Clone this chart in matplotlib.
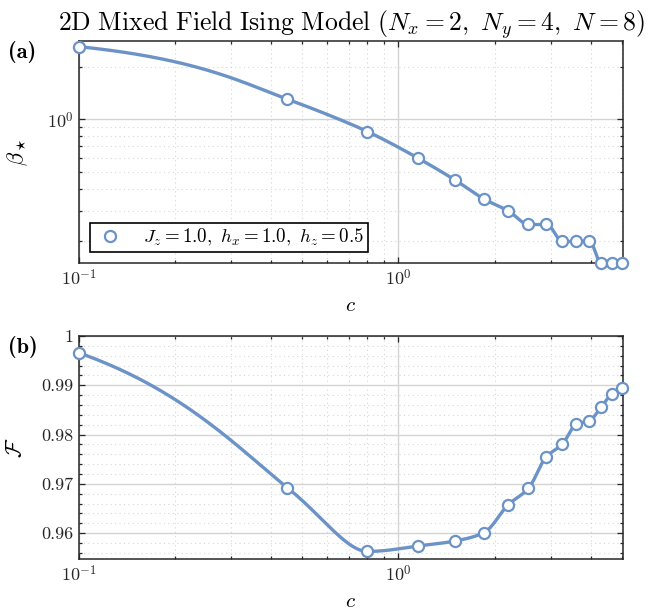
import numpy as np
import matplotlib
matplotlib.use("Agg")
import matplotlib.pyplot as plt
from matplotlib.ticker import FixedLocator, NullFormatter, LogLocator, MultipleLocator

plt.rcParams['font.family'] = 'serif'
plt.rcParams['font.serif'] = ['cmr10', 'DejaVu Serif']
plt.rcParams['mathtext.fontset'] = 'cm'
plt.rcParams['axes.unicode_minus'] = False
plt.rcParams['axes.formatter.use_mathtext'] = True

# data
c_vals = [0.1, 0.45, 0.8, 1.15, 1.5, 1.85, 2.2, 2.55, 2.9, 3.25, 3.6, 3.95, 4.3, 4.65, 5.0]
beta_star = [2.6, 1.3, 0.85, 0.6, 0.45, 0.35, 0.30, 0.25, 0.25, 0.20, 0.20, 0.20, 0.15, 0.15, 0.15]
fidelity = [0.9966, 0.9692, 0.9563, 0.9574, 0.9584, 0.9601, 0.9657, 0.9691,
            0.9755, 0.9780, 0.9821, 0.9828, 0.9855, 0.9883, 0.9895]
legend_label = r'$J_z = 1.0,\ h_x = 1.0,\ h_z = 0.5$'
title = r'$\mathrm{2D\ Mixed\ Field\ Ising\ Model}\ (N_x = 2,\ N_y = 4,\ N = 8)$'
f_ticks = [0.96, 0.97, 0.98, 0.99, 1.0]
f_ticklabels = ['0.96', '0.97', '0.98', '0.99', '1']

color = '#6b93c8'


def pchip(x, y, xn):
    # monotone cubic (same as scipy's PchipInterpolator)
    x = np.asarray(x, float)
    y = np.asarray(y, float)
    h = np.diff(x)
    d = np.diff(y) / h
    n = len(x)
    m = np.zeros(n)
    for k in range(1, n - 1):
        if d[k - 1] * d[k] <= 0:
            m[k] = 0.0
        else:
            w1 = 2 * h[k] + h[k - 1]
            w2 = h[k] + 2 * h[k - 1]
            m[k] = (w1 + w2) / (w1 / d[k - 1] + w2 / d[k])

    def end(h0, h1, d0, d1):
        mm = ((2 * h0 + h1) * d0 - h0 * d1) / (h0 + h1)
        if np.sign(mm) != np.sign(d0):
            mm = 0.0
        elif np.sign(d0) != np.sign(d1) and abs(mm) > abs(3 * d0):
            mm = 3 * d0
        return mm

    m[0] = end(h[0], h[1], d[0], d[1])
    m[-1] = end(h[-1], h[-2], d[-1], d[-2])
    idx = np.clip(np.searchsorted(x, xn) - 1, 0, n - 2)
    t = (xn - x[idx]) / h[idx]
    h00 = 2 * t**3 - 3 * t**2 + 1
    h10 = t**3 - 2 * t**2 + t
    h01 = -2 * t**3 + 3 * t**2
    h11 = t**3 - t**2
    return h00 * y[idx] + h10 * h[idx] * m[idx] + h01 * y[idx + 1] + h11 * h[idx] * m[idx + 1]


cc = np.linspace(c_vals[0], c_vals[-1], 1500)

fig = plt.figure(figsize=(6.48, 6.10), dpi=100)
W, H = 648, 610
left, right = 78.6 / W, 623.3 / W
ax1 = fig.add_axes([left, 1 - 263.3 / H, right - left, (263.3 - 40.7) / H])
ax2 = fig.add_axes([left, 1 - 559.3 / H, right - left, (559.3 - 336.0) / H])


def style(ax):
    ax.tick_params(which='both', direction='in', top=True, right=True,
                   labelsize=13, colors='#262626', width=0.9)
    ax.tick_params(which='major', length=4)
    ax.tick_params(which='minor', length=2.2)
    ax.grid(which='major', color='#d4d4d4', lw=1.0, ls='-')
    ax.grid(which='minor', color='#d6d6d6', lw=0.8, ls=(0, (1, 3)))
    ax.set_axisbelow(True)
    for s in ax.spines.values():
        s.set_color('#262626')
        s.set_linewidth(1.1)
    ax.set_xscale('log')
    ax.set_xlim(0.1, 5.05)
    ax.xaxis.set_major_locator(FixedLocator([0.1, 1.0]))
    ax.set_xticklabels([r'$10^{-1}$', r'$10^{0}$'])
    ax.xaxis.set_minor_locator(LogLocator(base=10, subs=np.arange(2, 10)))
    ax.xaxis.set_minor_formatter(NullFormatter())
    ax.set_xlabel(r'$c$', fontsize=15, labelpad=6)


# (a) beta star
ax1.plot(cc, pchip(c_vals, beta_star, cc), color=color, lw=2.4, zorder=3)
ax1.plot(c_vals, beta_star, 'o', ls='none', mfc='white', mec=color, mew=1.6, ms=8,
         label=legend_label, zorder=4, clip_on=False)
style(ax1)
ax1.set_yscale('log')
ax1.set_ylim(0.15, 2.81)
ax1.yaxis.set_major_locator(FixedLocator([1.0]))
ax1.set_yticklabels([r'$10^{0}$'])
ax1.yaxis.set_minor_locator(LogLocator(base=10, subs=np.arange(2, 10)))
ax1.yaxis.set_minor_formatter(NullFormatter())
ax1.set_ylabel(r'$\beta_\star$', fontsize=16, labelpad=12)
leg = ax1.legend(loc='lower left', fontsize=13.6, frameon=True, fancybox=False,
                 framealpha=1, edgecolor='black', handletextpad=0.9,
                 borderaxespad=0.6, handlelength=1.7, borderpad=0.2)
leg.get_frame().set_linewidth(1.2)
ax1.set_title(title, fontsize=18.5, pad=6)

# (b) fidelity
ax2.plot(cc, pchip(c_vals, fidelity, cc), color=color, lw=2.4, zorder=3)
ax2.plot(c_vals, fidelity, 'o', ls='none', mfc='white', mec=color, mew=1.6, ms=8,
         zorder=4, clip_on=False)
style(ax2)
ax2.set_ylim(0.9547, 1.0)
ax2.yaxis.set_major_locator(FixedLocator(f_ticks))
ax2.set_yticklabels(f_ticklabels)
ax2.yaxis.set_minor_locator(MultipleLocator(0.002))
ax2.set_ylabel(r'$\mathcal{F}$', fontsize=16, labelpad=11)

fig.text(8 / W, 1 - 52 / H, '(a)', family='cmb10', fontsize=16, va='center', ha='left')
fig.text(8 / W, 1 - 347 / H, '(b)', family='cmb10', fontsize=16, va='center', ha='left')

fig.savefig('out.png', dpi=100)
